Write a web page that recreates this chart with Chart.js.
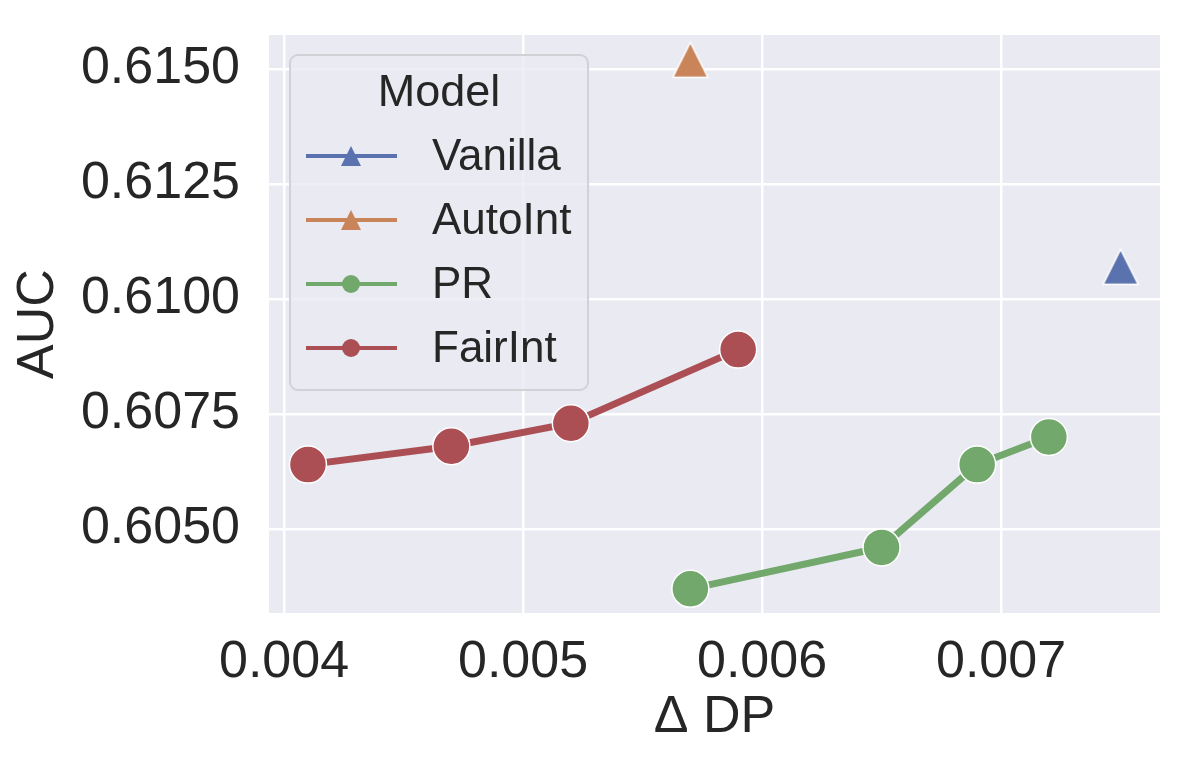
<!DOCTYPE html>
<html>
<head>
<meta charset="utf-8">
<script src="https://cdn.jsdelivr.net/npm/chart.js@4.4.1/dist/chart.umd.min.js"></script>
<style>
  html, body { margin: 0; padding: 0; background: #fff; }
  canvas { display: block; }
</style>
</head>
<body>
<canvas id="dpChart" width="1196" height="768"></canvas>
<script>
// valores (Δ DP vs AUC)
const modelNames = ['Vanilla', 'AutoInt', 'PR', 'FairInt'];
const vanillaDP  = [0.0075];
const vanillaAUC = [0.6107];
const autoIntDP  = [0.0057];
const autoIntAUC = [0.6152];
const prDP       = [0.0057, 0.0065, 0.0069, 0.0072];
const prAUC      = [0.6037, 0.6046, 0.6064, 0.6070];
const fairDP     = [0.0041, 0.0047, 0.0052, 0.0059];
const fairAUC    = [0.6064, 0.6068, 0.6073, 0.6089];

const xTicks = [0.004, 0.005, 0.006, 0.007];
const yTicks = [0.6050, 0.6075, 0.6100, 0.6125, 0.6150];

const colors = ['#5a72ad', '#c9845a', '#72a86c', '#ab4f55'];
const FONT   = "'Liberation Sans', Arial, sans-serif";
const TXT    = '#262626';

const toPts = (xs, ys) => xs.map((x, i) => ({ x, y: ys[i] }));

// triángulo tipo matplotlib: centrado en su caja, no en el baricentro
function triangleMarker(color, size, edge) {
  const c = document.createElement('canvas');
  const pad = edge + 1;
  c.width = size + pad * 2;
  c.height = size + pad * 2;
  const g = c.getContext('2d');
  g.beginPath();
  g.moveTo(pad + size / 2, pad);
  g.lineTo(pad + size, pad + size);
  g.lineTo(pad, pad + size);
  g.closePath();
  g.fillStyle = color;
  g.fill();
  if (edge > 0) {
    g.lineWidth = edge;
    g.strokeStyle = '#ffffff';
    g.lineJoin = 'miter';
    g.stroke();
  }
  return c;
}

function makeSet(idx, xs, ys, isTriangle, withLine) {
  return {
    label: modelNames[idx],
    data: toPts(xs, ys),
    showLine: withLine,
    borderColor: colors[idx],
    borderWidth: 7,
    pointStyle: isTriangle ? triangleMarker(colors[idx], 35, 1.5) : 'circle',
    legendStyle: isTriangle ? triangleMarker(colors[idx], 20, 0) : 'circle',
    pointRadius: 18.5,
    pointBackgroundColor: colors[idx],
    pointBorderColor: '#ffffff',
    pointBorderWidth: 1.5,
    pointHoverRadius: 18.5,
    clip: false
  };
}

// fondo gris estilo seaborn
const areaBg = {
  id: 'areaBg',
  beforeDraw(chart) {
    const { ctx, chartArea: a } = chart;
    ctx.save();
    ctx.fillStyle = '#eaeaf2';
    ctx.fillRect(a.left, a.top, a.right - a.left, a.bottom - a.top);
    ctx.restore();
  }
};

// leyenda con línea + marcador dentro del área
const innerLegend = {
  id: 'innerLegend',
  afterDraw(chart) {
    const { ctx, chartArea: a } = chart;
    const bx = a.left + 21, by = a.top + 20, bw = 298, bh = 335;
    ctx.save();
    ctx.beginPath();
    ctx.roundRect(bx, by, bw, bh, 8);
    ctx.fillStyle = 'rgba(234,234,242,0.8)';
    ctx.fill();
    ctx.lineWidth = 2;
    ctx.strokeStyle = '#d2d2d6';
    ctx.stroke();

    ctx.fillStyle = TXT;
    ctx.textAlign = 'center';
    ctx.textBaseline = 'middle';
    ctx.font = `45px ${FONT}`;
    ctx.fillText('Model', bx + bw / 2, by + 39);

    ctx.font = `44px ${FONT}`;
    ctx.textAlign = 'left';
    chart.data.datasets.forEach((ds, i) => {
      const y = by + 101 + i * 64;
      ctx.beginPath();
      ctx.moveTo(bx + 16, y);
      ctx.lineTo(bx + 107, y);
      ctx.lineWidth = 4;
      ctx.strokeStyle = ds.borderColor;
      ctx.stroke();
      ctx.fillStyle = ds.borderColor;
      ctx.strokeStyle = ds.borderColor;
      Chart.helpers.drawPoint(ctx, {
        pointStyle: ds.legendStyle,
        radius: 9,
        rotation: 0,
        borderWidth: 0
      }, bx + 61, y);
      ctx.fillStyle = TXT;
      ctx.fillText(ds.label, bx + 142, y + 2);
    });
    ctx.restore();
  }
};

new Chart(document.getElementById('dpChart').getContext('2d'), {
  type: 'scatter',
  data: {
    datasets: [
      makeSet(0, vanillaDP, vanillaAUC, true, false),
      makeSet(1, autoIntDP, autoIntAUC, true, false),
      makeSet(2, prDP, prAUC, false, true),
      makeSet(3, fairDP, fairAUC, false, true)
    ]
  },
  options: {
    responsive: false,
    animation: false,
    layout: { padding: { top: 35, right: 36, left: 0, bottom: 0 } },
    plugins: {
      legend: { display: false },
      tooltip: { enabled: false }
    },
    scales: {
      x: {
        type: 'linear',
        min: 0.003937,
        max: 0.007665,
        afterFit: (s) => { s.height = 155; s.paddingLeft = 0; s.paddingRight = 0; },
        afterBuildTicks: (s) => { s.ticks = xTicks.map(v => ({ value: v })); },
        ticks: {
          includeBounds: false,
          padding: 18,
          color: TXT,
          font: { size: 52, family: FONT },
          callback: (v) => Number(v).toFixed(3)
        },
        grid: { color: '#ffffff', lineWidth: 2.5, drawTicks: false },
        border: { display: false },
        title: {
          display: true,
          text: 'Δ DP',
          color: TXT,
          font: { size: 52, family: FONT },
          padding: { top: 0, bottom: 19 }
        }
      },
      y: {
        type: 'linear',
        min: 0.603174,
        max: 0.615739,
        afterFit: (s) => { s.width = 269; s.paddingTop = 0; s.paddingBottom = 0; },
        afterBuildTicks: (s) => { s.ticks = yTicks.map(v => ({ value: v })); },
        ticks: {
          includeBounds: false,
          padding: 29,
          color: TXT,
          font: { size: 52, family: FONT },
          callback: (v) => Number(v).toFixed(4)
        },
        grid: { color: '#ffffff', lineWidth: 2.5, drawTicks: false },
        border: { display: false },
        title: {
          display: true,
          text: 'AUC',
          color: TXT,
          font: { size: 52, family: FONT },
          padding: { top: 7, bottom: 0 }
        }
      }
    }
  },
  plugins: [areaBg, innerLegend]
});
</script>
</body>
</html>
